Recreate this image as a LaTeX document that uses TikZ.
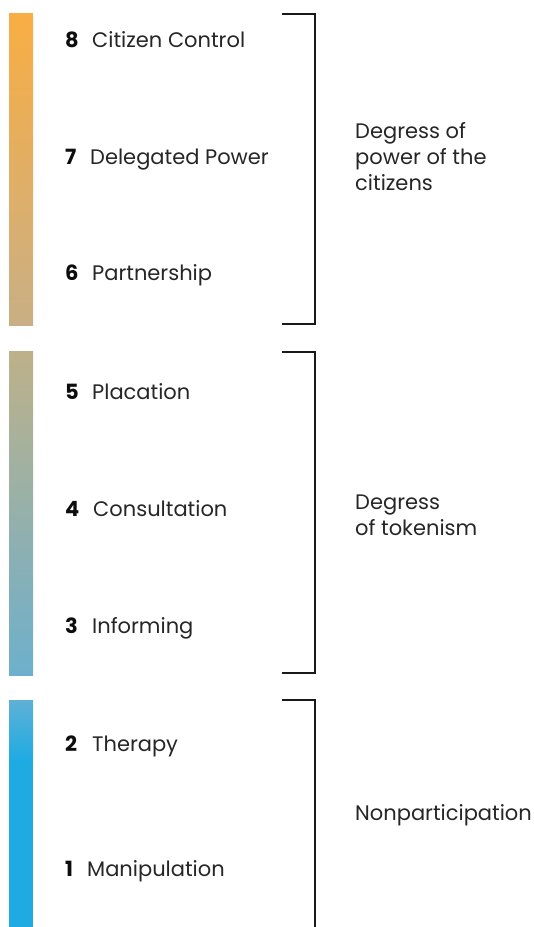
\documentclass[tikz,border=0pt]{standalone}
\usepackage{fontspec}
\setmainfont{Poppins}
\begin{document}
\begin{tikzpicture}[x=1pt,y=-1pt,
  num/.style={anchor=base west,inner sep=0pt,font=\fontsize{21}{26}\selectfont\bfseries,text=black!95},
  lbl/.style={anchor=base west,inner sep=0pt,font=\fontsize{21}{26}\selectfont,text=black!85},
  grp/.style={anchor=base west,inner sep=0pt,font=\fontsize{21}{26}\selectfont,text=black!85},
  brk/.style={draw=black!90,line width=2pt}]
\useasboundingbox (0,0) rectangle (534,927);
\definecolor{o1}{HTML}{F9AE43}
\definecolor{o2}{HTML}{C9AF85}
\definecolor{m1}{HTML}{BEB189}
\definecolor{m2}{HTML}{6DB0CC}
\definecolor{b1}{HTML}{5EB1D6}
\definecolor{b2}{HTML}{1FABE2}
% bars
\shade[top color=o1,bottom color=o2] (9,13) rectangle (33,325);
\shade[top color=m1,bottom color=m2] (9,351) rectangle (33,675);
\shade[top color=b1,bottom color=b2] (9,700) rectangle (33,760);
\fill[b2] (9,759.5) rectangle (33,927);
% brackets
\coordinate (t1a) at (282,14); \coordinate (t1b) at (315,14);
\coordinate (b1a) at (282,324); \coordinate (b1b) at (315,324);
\coordinate (t2a) at (282,352); \coordinate (t2b) at (315,352);
\coordinate (b2a) at (282,673); \coordinate (b2b) at (315,673);
\coordinate (t3a) at (282,700); \coordinate (t3b) at (315,700);
\coordinate (b3b) at (315,930);
\draw[brk] (t1a) -- (t1b) -- (b1b) -- (b1a);
\draw[brk] (t2a) -- (t2b) -- (b2b) -- (b2a);
\draw[brk] (t3a) -- (t3b) -- (b3b);
% rungs
\node[num] (n8) at (65,47) {8};  \node[lbl] (l8) at (92,47) {Citizen Control};
\node[num] (n7) at (65,164) {7}; \node[lbl] (l7) at (90,164) {Delegated Power};
\node[num] (n6) at (65,280) {6}; \node[lbl] (l6) at (92,280) {Partnership};
\node[num] (n5) at (65,399) {5}; \node[lbl] (l5) at (92,399) {Placation};
\node[num] (n4) at (65,516) {4}; \node[lbl] (l4) at (93,516) {Consultation};
\node[num] (n3) at (65,633) {3}; \node[lbl] (l3) at (92,633) {Informing};
\node[num] (n2) at (65,751) {2}; \node[lbl] (l2) at (92,751) {Therapy};
\node[num] (n1) at (65,876) {1}; \node[lbl] (l1) at (87,876) {Manipulation};
% groups
\node[grp] (g1a) at (355,138) {Degress of};
\node[grp] (g1b) at (355,164) {power of the};
\node[grp] (g1c) at (355,190) {citizens};
\node[grp] (g2a) at (355,509) {Degress};
\node[grp] (g2b) at (355,535) {of tokenism};
\node[grp] (g3) at (355,820) {Nonparticipation};
\end{tikzpicture}
\end{document}
